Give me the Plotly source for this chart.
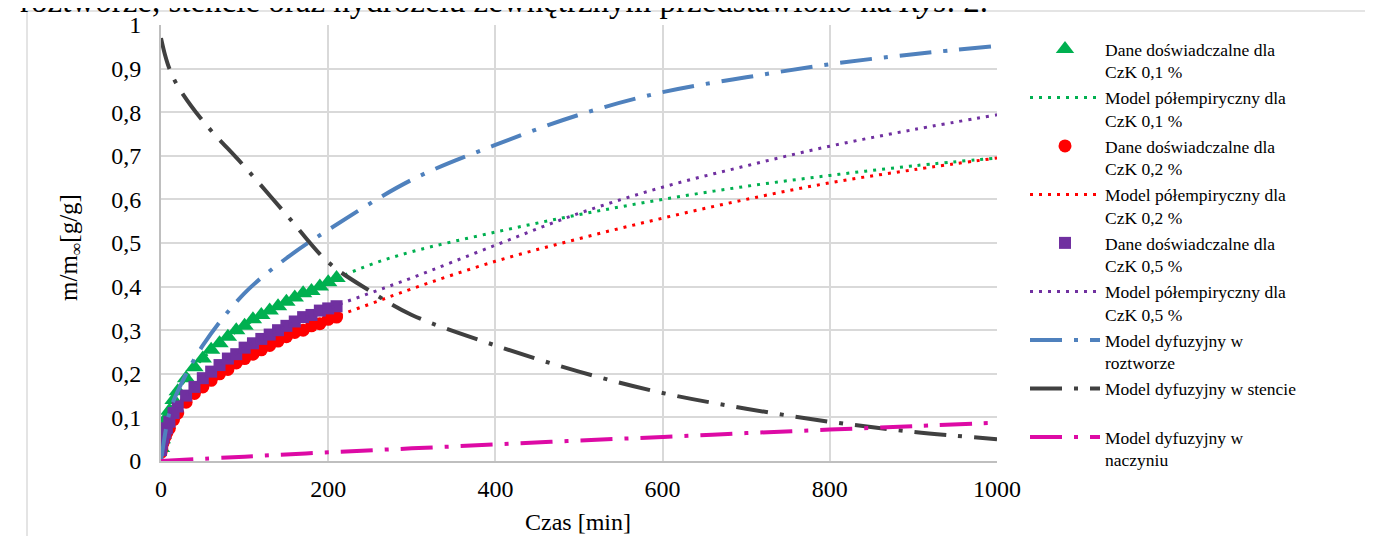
import plotly.graph_objects as go

# ---------------- data ----------------
t_exp = [0, 1, 2, 3, 5, 7, 10, 15, 20, 30, 40, 50, 60, 70, 80, 90, 100,
         110, 120, 130, 140, 150, 160, 170, 180, 190, 200, 210]
czk01_exp = [0.03, 0.05, 0.06, 0.07, 0.085, 0.10, 0.115, 0.14, 0.16, 0.19, 0.215,
             0.235, 0.255, 0.27, 0.285, 0.30, 0.31, 0.325, 0.335, 0.345, 0.355,
             0.365, 0.375, 0.385, 0.39, 0.40, 0.41, 0.42]
czk02_exp = [0.02, 0.03, 0.04, 0.045, 0.055, 0.065, 0.075, 0.095, 0.11, 0.135, 0.155,
             0.17, 0.185, 0.20, 0.21, 0.225, 0.235, 0.245, 0.255, 0.265, 0.275,
             0.285, 0.295, 0.30, 0.31, 0.315, 0.325, 0.33]
czk05_exp = [0.025, 0.04, 0.05, 0.055, 0.065, 0.075, 0.09, 0.11, 0.125, 0.15, 0.17,
             0.19, 0.205, 0.22, 0.235, 0.245, 0.26, 0.27, 0.28, 0.29, 0.30,
             0.31, 0.32, 0.33, 0.335, 0.345, 0.35, 0.355]

t_model = [0, 10, 20, 50, 100, 150, 200, 250, 300, 400, 500, 600, 700, 800, 900, 1000]
czk01_model = [0, 0.115, 0.16, 0.235, 0.31, 0.365, 0.41, 0.45, 0.48, 0.525, 0.565,
               0.60, 0.63, 0.655, 0.677, 0.695]
czk02_model = [0, 0.075, 0.11, 0.17, 0.235, 0.285, 0.325, 0.36, 0.395, 0.458, 0.51,
               0.557, 0.60, 0.638, 0.668, 0.695]
czk05_model = [0, 0.09, 0.125, 0.19, 0.26, 0.31, 0.35, 0.385, 0.42, 0.495, 0.568,
               0.628, 0.677, 0.722, 0.76, 0.794]

t_roztwor = [0, 10, 20, 50, 100, 150, 200, 300, 400, 500, 600, 700, 800, 900, 1000]
roztwor = [0.0, 0.11, 0.16, 0.265, 0.385, 0.465, 0.53, 0.645, 0.725, 0.794, 0.846,
           0.88, 0.91, 0.933, 0.952]

t_stent = [0, 5, 10, 20, 50, 100, 150, 200, 250, 300, 400, 500, 600, 700, 800, 900, 1000]
stent = [0.97, 0.93, 0.90, 0.86, 0.78, 0.675, 0.565, 0.456, 0.39, 0.335, 0.265,
         0.205, 0.156, 0.12, 0.09, 0.067, 0.05]

t_naczynie = [0, 100, 200, 300, 400, 500, 600, 700, 800, 900, 1000]
naczynie = [0, 0.01, 0.02, 0.029, 0.038, 0.047, 0.055, 0.064, 0.072, 0.08, 0.088]

x_ticks = [0, 200, 400, 600, 800, 1000]
y_ticks = [0, 0.1, 0.2, 0.3, 0.4, 0.5, 0.6, 0.7, 0.8, 0.9, 1]

# ---------------- styling ----------------
SERIF = "Liberation Serif, Times New Roman, serif"
GREEN, RED, PURPLE = "#00B050", "#FF0000", "#7030A0"
BLUE, DARK, MAGENTA = "#4F81BD", "#404040", "#DD0AA5"
DOT = "3px,6px"
DASHDOT = "32px,12px,4px,12px"

fig = go.Figure()

fig.add_trace(go.Scatter(x=t_exp, y=czk01_exp, mode="markers",
                         name="Dane doświadczalne dla<br>CzK 0,1 %",
                         marker=dict(symbol="triangle-up", size=16, color=GREEN)))
fig.add_trace(go.Scatter(x=t_model, y=czk01_model, mode="lines",
                         name="Model półempiryczny dla<br>CzK 0,1 %",
                         line=dict(color=GREEN, width=3, dash=DOT, shape="spline")))
fig.add_trace(go.Scatter(x=t_exp, y=czk02_exp, mode="markers",
                         name="Dane doświadczalne dla<br>CzK 0,2 %",
                         marker=dict(symbol="circle", size=13, color=RED)))
fig.add_trace(go.Scatter(x=t_model, y=czk02_model, mode="lines",
                         name="Model półempiryczny dla<br>CzK 0,2 %",
                         line=dict(color=RED, width=3, dash=DOT, shape="spline")))
fig.add_trace(go.Scatter(x=t_exp, y=czk05_exp, mode="markers",
                         name="Dane doświadczalne dla<br>CzK 0,5 %",
                         marker=dict(symbol="square", size=12, color=PURPLE)))
fig.add_trace(go.Scatter(x=t_model, y=czk05_model, mode="lines",
                         name="Model półempiryczny dla<br>CzK 0,5 %",
                         line=dict(color=PURPLE, width=3, dash=DOT, shape="spline")))
fig.add_trace(go.Scatter(x=t_roztwor, y=roztwor, mode="lines",
                         name="Model dyfuzyjny w<br>roztworze",
                         line=dict(color=BLUE, width=4, dash=DASHDOT, shape="spline")))
fig.add_trace(go.Scatter(x=t_stent, y=stent, mode="lines",
                         name="Model dyfuzyjny w stencie<br> ",
                         line=dict(color=DARK, width=4, dash=DASHDOT, shape="spline")))
fig.add_trace(go.Scatter(x=t_naczynie, y=naczynie, mode="lines",
                         name="Model dyfuzyjny w<br>naczyniu",
                         line=dict(color=MAGENTA, width=4, dash=DASHDOT, shape="spline")))

# page offset of the plot div (default body margin)
OFF = 8
FIG_W, FIG_H = 1373 - OFF, 536 - OFF
# plot area in screenshot pixels
L, R, T, B = 161, 997, 25, 461
W, H = R - L, B - T


def px(x):
    return (x - L) / W


def py(y):
    return (B - y) / H


fig.update_layout(
    width=FIG_W, height=FIG_H,
    margin=dict(l=L - OFF, r=(FIG_W + OFF) - R, t=T - OFF, b=(FIG_H + OFF) - B,
                autoexpand=False),
    paper_bgcolor="white", plot_bgcolor="white",
    separators=", ",
    font=dict(family=SERIF, size=24, color="black"),
    showlegend=True,
    legend=dict(x=px(1025), y=py(31), xanchor="left", yanchor="top",
                font=dict(family=SERIF, size=17.5, color="black"),
                itemwidth=70, valign="top", bgcolor="rgba(0,0,0,0)",
                tracegroupgap=0, maxheight=700),
    xaxis=dict(range=[0, 1000], tickvals=x_ticks, showgrid=True,
               gridcolor="#D9D9D9", gridwidth=1.5, zeroline=False,
               showline=True, linecolor="#BFBFBF", linewidth=2,
               ticks="", ticklabelstandoff=5,
               tickfont=dict(family=SERIF, size=24)),
    yaxis=dict(range=[0, 1], tickvals=y_ticks, showgrid=True,
               gridcolor="#D9D9D9", gridwidth=1.5, zeroline=False,
               showline=True, linecolor="#BFBFBF", linewidth=2,
               ticks="", ticklabelstandoff=13,
               tickfont=dict(family=SERIF, size=24)),
    shapes=[dict(type="rect", xref="paper", yref="paper",
                 x0=px(27), x1=px(1367), y0=py(545), y1=py(11),
                 line=dict(color="#DCDCDC", width=1.5), layer="below")],
    annotations=[
        dict(text="roztworze, stencie oraz hydrożelu zewnętrznym przedstawiono na <i>Rys</i>. 2.",
             xref="paper", yref="paper", x=px(18), y=py(1),
             xanchor="left", yanchor="middle", showarrow=False,
             font=dict(family=SERIF, size=33, color="black")),
        dict(text="m/m<sub>∞</sub>[g/g]", xref="paper", yref="paper",
             x=px(70), y=py(248), xanchor="center", yanchor="middle",
             textangle=-90, showarrow=False,
             font=dict(family=SERIF, size=25, color="black")),
        dict(text="Czas [min]", xref="paper", yref="paper",
             x=px(578), y=py(522), xanchor="center", yanchor="middle",
             showarrow=False, font=dict(family=SERIF, size=24, color="black")),
    ],
)

fig.write_html("out.html")
